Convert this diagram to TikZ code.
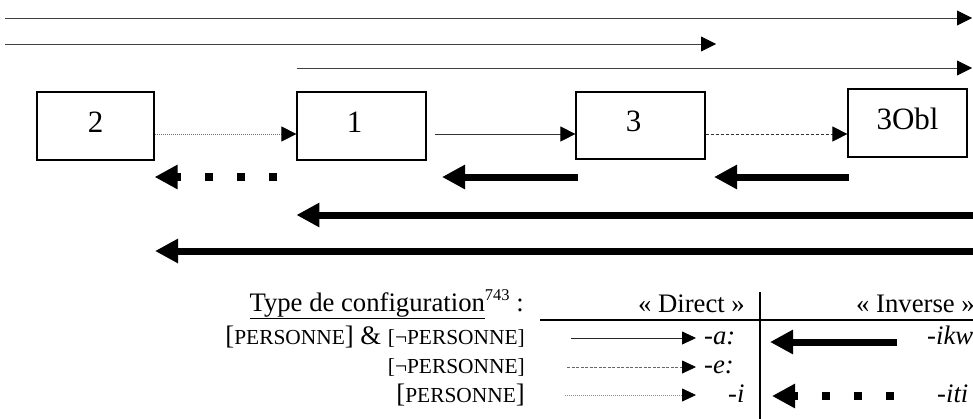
\documentclass[tikz,border=0pt]{standalone}
\usepackage{fontspec}
\setmainfont{Liberation Serif}
\usetikzlibrary{arrows.meta}
\newcommand{\smc}[1]{{\fontsize{21.4}{24}\selectfont #1}}
\begin{document}
\begin{tikzpicture}[x=1pt,y=-1pt,
  box/.style={draw, line width=1.2pt, minimum height=68pt, inner sep=0pt,
    font=\fontsize{31}{36}\selectfont, text height=21pt, text depth=9pt},
  toparrow/.style={line width=0.9pt, draw=black!75, -{Triangle[length=15pt,width=15pt,color=black]}},
  dotconn/.style={line width=0.8pt, draw=black!55, dash pattern=on 0.8pt off 1.2pt, -{Triangle[length=15pt,width=15pt,color=black]}},
  solidconn/.style={line width=0.8pt, draw=black!80, -{Triangle[length=15pt,width=15pt,color=black]}},
  dashconn/.style={line width=0.8pt, draw=black!80, dash pattern=on 3pt off 2pt, -{Triangle[length=15pt,width=15pt,color=black]}},
  tsolid/.style={line width=0.8pt, draw=black!85, -{Triangle[length=14pt,width=13pt,color=black]}},
  tdash/.style={line width=0.8pt, draw=black!60, dash pattern=on 3pt off 1.5pt, -{Triangle[length=14pt,width=13pt,color=black]}},
  tdot/.style={line width=0.8pt, draw=black!45, dash pattern=on 0.8pt off 1.2pt, -{Triangle[length=14pt,width=13pt,color=black]}},
  fat/.style={line width=7pt, -{Triangle[length=23pt,width=23pt]}},
  fatdot/.style={line width=8pt, dash pattern=on 8pt off 24pt, -{Triangle[length=23pt,width=23pt]}},
  txt/.style={inner sep=0pt, font=\fontsize{26.7}{32}\selectfont},
  rule/.style={line width=1.5pt}
]
\useasboundingbox (0,0) rectangle (973,418);

% top arrows
\coordinate (t1s) at (5,18);   \coordinate (t1e) at (972,18);
\coordinate (t2s) at (5,44);   \coordinate (t2e) at (716,44);
\coordinate (t3s) at (297,68); \coordinate (t3e) at (972,68);
\draw[toparrow] (t1s) -- (t1e);
\draw[toparrow] (t2s) -- (t2e);
\draw[toparrow] (t3s) -- (t3e);

% boxes
\node[box, minimum width=117pt] (b2) at (95.5,126) {2};
\node[box, minimum width=129pt] (b1) at (361.5,126) {\hspace*{-14pt}1};
\node[box, minimum width=129pt, minimum height=67pt] (b3) at (640.5,125.5) {\hspace*{-14pt}3};
\node[box, minimum width=119pt] (b3obl) at (907.5,123) {3Obl};

% connectors between boxes
\coordinate (ly) at (0,134);
\coordinate (s13) at ([xshift=8pt]b1.east);
\draw[dotconn] (b2.east |- ly) -- (b1.west |- ly);
\draw[solidconn] (s13 |- ly) -- (b3.west |- ly);
\draw[dashconn] (b3.east |- ly) -- (b3obl.west |- ly);

% short thick arrows
\coordinate (k1s) at (277,177);
\coordinate (k2s) at (578,177); \coordinate (k2e) at (442,177);
\coordinate (k3s) at (849,177); \coordinate (k3e) at (714,177);
\draw[fatdot] (k1s) -- (b2.east |- k1s);
\draw[fat] (k2s) -- (k2e);
\draw[fat] (k3s) -- (k3e);

% long thick arrows
\coordinate (l1s) at (978,215);
\coordinate (l2s) at (978,251); \coordinate (l2e) at (155,251);
\draw[fat] (l1s) -- (b1.west |- l1s);
\draw[fat] (l2s) -- (l2e);

% legend table
\node[txt, anchor=base east] (title) at (524,311)
  {\underline{Type de configuration}\raisebox{0.4em}{\fontsize{16.5}{18}\selectfont 743} :};
\node[txt, anchor=base east] (r1) at (525,344) {[\smc{PERSONNE}] \& \smc{[¬PERSONNE]}};
\node[txt, anchor=base east] (r2) at (525,373) {\smc{[¬PERSONNE]}};
\node[txt, anchor=base east] (r3) at (525,402) {[\smc{PERSONNE}]};

\coordinate (hl1) at (540,320); \coordinate (hl2) at (978,320);
\coordinate (vl1) at (760,292); \coordinate (vl2) at (760,420);
\draw[rule] (hl1) -- (hl2);
\draw[rule] (vl1) -- (vl2);

\node[txt, anchor=base east] (dir) at (745,312) {« Direct »};
\node[txt, anchor=base east] (inv) at (975,312) {« Inverse »};

\coordinate (d1s) at (571,338); \coordinate (d1e) at (696,338);
\coordinate (d2s) at (567,367); \coordinate (d2e) at (696,367);
\coordinate (d3s) at (565,395); \coordinate (d3e) at (696,395);
\draw[tsolid] (d1s) -- (d1e);
\draw[tdash] (d2s) -- (d2e);
\draw[tdot] (d3s) -- (d3e);

\node[txt, anchor=base west] (sa) at (704,344) {\textit{-a:}};
\node[txt, anchor=base west] (se) at (704,373) {\textit{-e:}};
\node[txt, anchor=base west] (si) at (728,402) {\textit{-i}};

\coordinate (i1s) at (897,342); \coordinate (i1e) at (770,342);
\coordinate (i3s) at (894,396); \coordinate (i3e) at (772,396);
\draw[fat] (i1s) -- (i1e);
\draw[fatdot] (i3s) -- (i3e);

\node[txt, anchor=base west] (sikw) at (927,344) {\textit{-ikw}};
\node[txt, anchor=base west] (siti) at (937,402) {\textit{-iti}};
\end{tikzpicture}
\end{document}
